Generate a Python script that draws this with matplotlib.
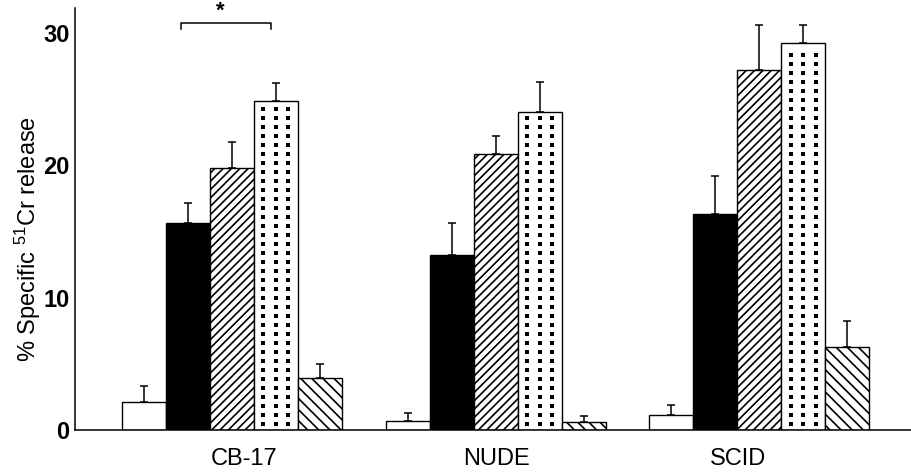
import numpy as np
import matplotlib
matplotlib.use("Agg")
import matplotlib.pyplot as plt
from matplotlib.path import Path

# ---- data ----
groups = ["CB-17", "NUDE", "SCID"]
treatments = ["control", "solid", "hatch_fwd", "dotted", "hatch_back"]
means = {
    "CB-17": [2.1, 15.6, 19.8, 24.8, 3.9],
    "NUDE":  [0.65, 13.2, 20.8, 24.0, 0.6],
    "SCID":  [1.15, 16.3, 27.2, 29.2, 6.3],
}
err_upper = {
    "CB-17": [1.2, 1.5, 1.9, 1.4, 1.1],
    "NUDE":  [0.6, 2.4, 1.4, 2.3, 0.45],
    "SCID":  [0.75, 2.9, 3.4, 1.4, 1.9],
}
yticks = [0, 10, 20, 30]
ylabel = r"% Specific $^{51}$Cr release"
sig_label = "*"

# ---- style ----
plt.rcParams['font.family'] = ['Liberation Sans', 'DejaVu Sans']
plt.rcParams['mathtext.fontset'] = 'custom'
plt.rcParams['mathtext.rm'] = 'Liberation Sans'
plt.rcParams['mathtext.it'] = 'Liberation Sans:italic'
plt.rcParams['mathtext.bf'] = 'Liberation Sans:bold'
plt.rcParams['hatch.linewidth'] = 1.2
plt.rcParams['hatch.color'] = 'black'

faces = ['white', 'black', 'white', 'white', 'white']
hatches = [None, None, '////', None, '\\\\\\']
group_spacing = 6.0
label_shift = [0.27, 0.02, -0.48]

fig = plt.figure(figsize=(9.11, 4.72), dpi=100)
ax = fig.add_axes([75 / 911, 42 / 472, 836 / 911, 422 / 472])

dot_marker = Path([(-0.4, -0.5), (0.4, -0.5), (0.4, 0.5), (-0.4, 0.5), (-0.4, -0.5)],
                  [Path.MOVETO, Path.LINETO, Path.LINETO, Path.LINETO, Path.CLOSEPOLY])

centers = np.arange(len(groups)) * group_spacing
offsets = np.arange(len(treatments)) - (len(treatments) - 1) / 2
for gi, g in enumerate(groups):
    xs = centers[gi] + offsets
    vals = np.array(means[g])
    errs = np.array(err_upper[g])
    for ti in range(len(treatments)):
        ax.bar(xs[ti], vals[ti], width=1.0, color=faces[ti], edgecolor='black',
               linewidth=1.0, hatch=hatches[ti], zorder=2)
    ax.errorbar(xs, vals, yerr=[np.zeros_like(errs), errs], fmt='none',
                ecolor='black', elinewidth=1.1, capsize=3.2, capthick=1.1, zorder=3)
    # dotted fill pattern for the 4th treatment
    h = vals[3]
    rows = np.arange(0.45, h - 0.35, 0.68)
    for dx in (-0.285, 0.0, 0.285):
        ax.plot(np.full_like(rows, xs[3] + dx), rows, linestyle='none',
                marker=dot_marker, markersize=3.3, markeredgewidth=0,
                color='black', zorder=4)

# significance bracket between bars 2 and 4 of the first group
xa = centers[0] + offsets[1] - 0.15
xb = centers[0] + offsets[3] - 0.1
yb = 30.7
ax.plot([xa, xa, xb, xb], [yb - 0.4, yb, yb, yb - 0.4], color='black', lw=1.1,
        clip_on=False, zorder=3)
ax.text((xa + xb) / 2 - 0.15, yb + 0.1, sig_label, ha='center', va='bottom',
        fontsize=16, fontweight='bold')

ax.set_xlim(-3.57, 15.45)
ax.set_ylim(0, 31.85)
ax.set_yticks(yticks)
ax.set_yticklabels([str(t) for t in yticks], fontsize=17, fontweight='bold')
ax.set_xticks(centers + np.array(label_shift))
ax.set_xticklabels(groups, fontsize=17)
ax.tick_params(axis='y', length=0, pad=4)
ax.tick_params(axis='x', length=0, pad=13)

for s in ['top', 'right']:
    ax.spines[s].set_visible(False)
ax.spines['left'].set_linewidth(1.1)
ax.spines['bottom'].set_linewidth(1.1)

ax.set_ylabel(ylabel, fontsize=17)
ax.yaxis.label.set_verticalalignment('center')
ax.yaxis.set_label_coords(-47 / 836, (430 - 239) / 422)

fig.savefig("out.png", dpi=100)
